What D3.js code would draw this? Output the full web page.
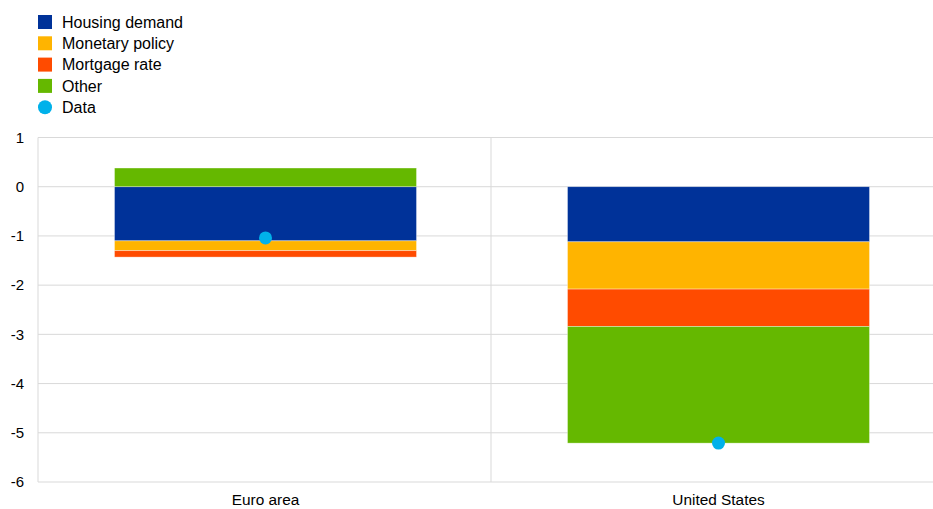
<!DOCTYPE html>
<html><head><meta charset="utf-8">
<script src="https://cdn.jsdelivr.net/npm/d3@7"></script>
<style>body{margin:0;background:#fff}svg{display:block;font-family:"Liberation Sans",Arial,sans-serif}</style>
</head><body><svg id="c" width="933" height="509"></svg>
<script>
const categories = ["Euro area", "United States"];
const seriesNames = ["Housing demand", "Monetary policy", "Mortgage rate", "Other"];
const housingDemand = [-1.10, -1.12];
const monetaryPolicy = [-0.20, -0.96];
const mortgageRate = [-0.13, -0.76];
const other = [0.38, -2.37];
const dataPoints = [-1.04, -5.21];
const yTicks = [1, 0, -1, -2, -3, -4, -5, -6];
const colors = ["#003299", "#ffb400", "#ff4b00", "#65b800"];
const dataColor = "#00b1ea";

const svg = d3.select("#c");
const L = 38, R = 945, T = 137.5, B = 482;
const y = d3.scaleLinear().domain([-6, 1]).range([B, T]);
const x = d3.scaleBand().domain(categories).range([L + 1, R]).paddingInner(0).paddingOuter(0);
const barW = x.bandwidth() * 2 / 3;

svg.append("g").selectAll("line").data(yTicks).join("line")
  .attr("x1", L).attr("x2", 933).attr("y1", d => y(d)).attr("y2", d => y(d))
  .attr("stroke", "#d9d9d9").attr("stroke-width", 1);
svg.append("line").attr("x1", L).attr("x2", L).attr("y1", T).attr("y2", B).attr("stroke", "#d9d9d9");
svg.append("line").attr("x1", 491).attr("x2", 491).attr("y1", T).attr("y2", B).attr("stroke", "#d9d9d9");

svg.append("g").selectAll("text").data(yTicks).join("text")
  .attr("x", 24).attr("y", d => y(d)).attr("dy", "0.35em").attr("text-anchor", "end")
  .attr("font-size", 15).attr("fill", "#000").text(d => d);

svg.append("g").selectAll("text").data(categories).join("text")
  .attr("x", d => x(d) + x.bandwidth() / 2).attr("y", 500).attr("dy", "0.35em").attr("text-anchor", "middle")
  .attr("font-size", 15.4).attr("fill", "#000").text(d => d);

const series = [housingDemand, monetaryPolicy, mortgageRate, other];
categories.forEach((c, ci) => {
  let pos = 0, neg = 0;
  series.forEach((s, si) => {
    const v = s[ci];
    let y0, y1;
    if (v >= 0) { y0 = pos; y1 = pos + v; pos = y1; } else { y0 = neg; y1 = neg + v; neg = y1; }
    svg.append("rect")
      .attr("x", x(c) + (x.bandwidth() - barW) / 2).attr("width", barW)
      .attr("y", y(Math.max(y0, y1))).attr("height", Math.abs(y(y0) - y(y1)))
      .attr("fill", colors[si]).attr("stroke", "rgba(255,255,255,0.5)").attr("stroke-width", 0.7);
  });
});

svg.append("g").selectAll("circle").data(dataPoints).join("circle")
  .attr("cx", (d, i) => x(categories[i]) + x.bandwidth() / 2).attr("cy", d => y(d)).attr("r", 6.5)
  .attr("fill", dataColor);

const leg = svg.append("g");
const legItems = seriesNames.map((n, i) => ({ name: n, color: colors[i], dot: false }))
  .concat([{ name: "Data", color: dataColor, dot: true }]);
legItems.forEach((d, i) => {
  const cy = 22 + i * 21.3;
  if (d.dot) leg.append("circle").attr("cx", 45).attr("cy", cy).attr("r", 7).attr("fill", d.color);
  else leg.append("rect").attr("x", 38).attr("y", cy - 7).attr("width", 14).attr("height", 14).attr("fill", d.color);
  leg.append("text").attr("x", 62).attr("y", cy).attr("dy", "0.35em").attr("font-size", 16).attr("fill", "#000").text(d.name);
});
</script></body></html>
